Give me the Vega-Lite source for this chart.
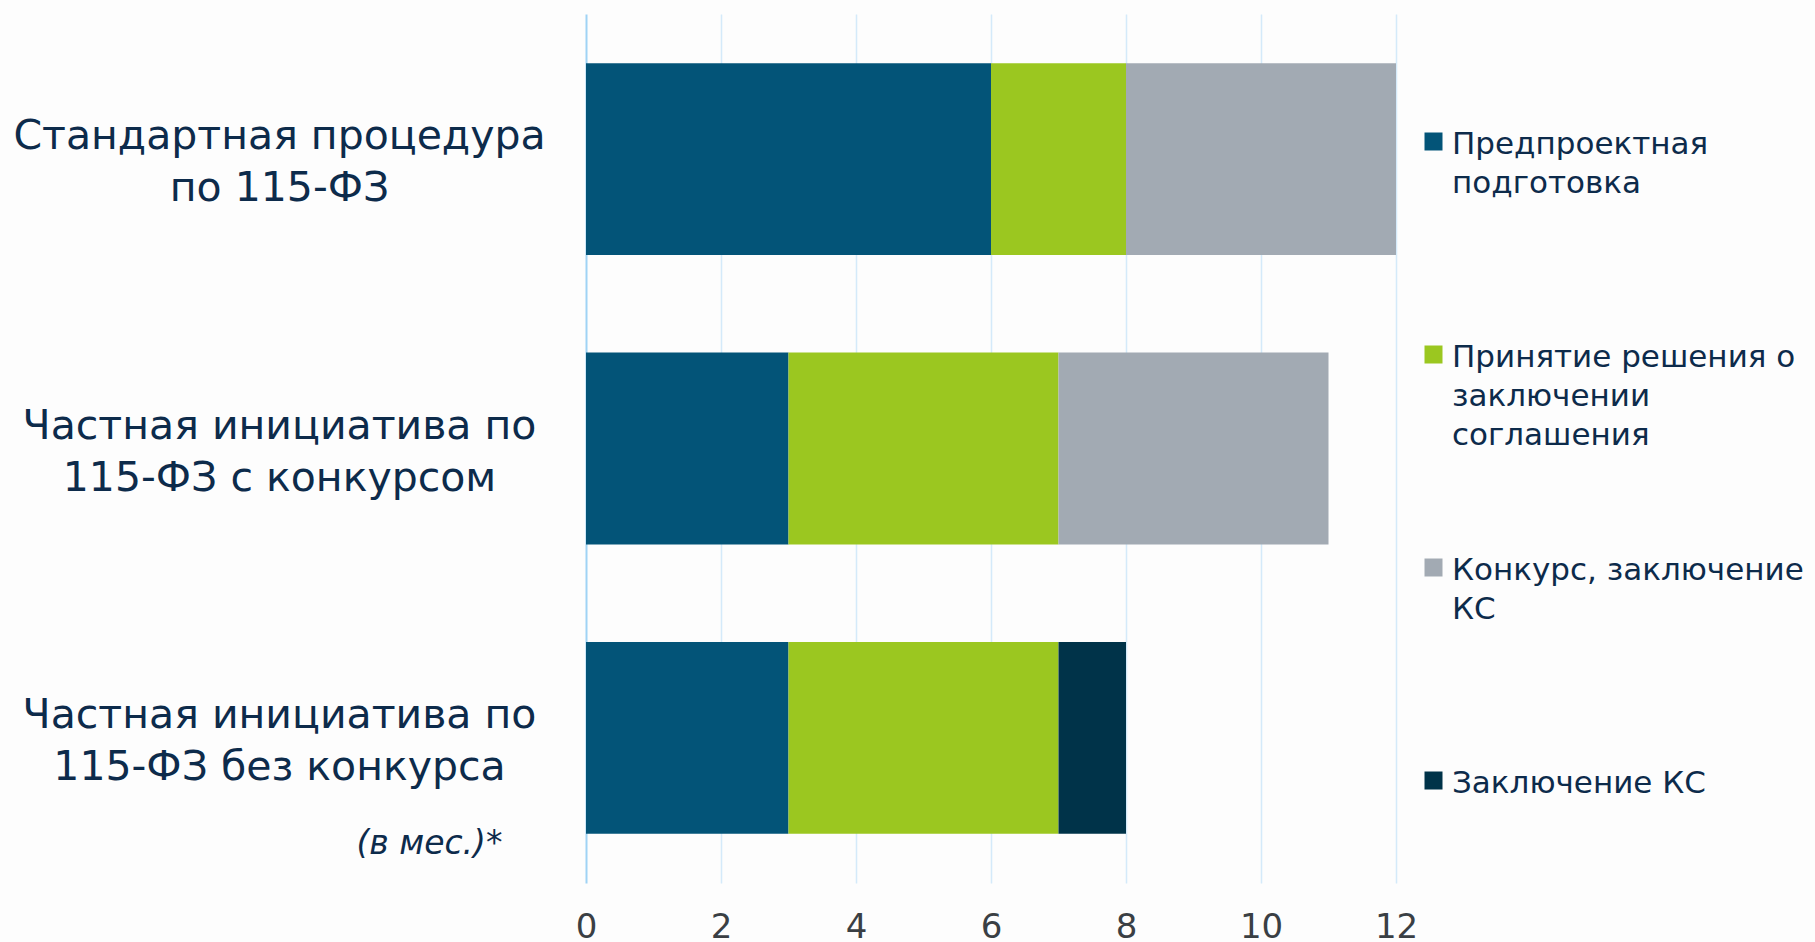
{
  "$schema": "https://vega.github.io/schema/vega-lite/v6.json",
  "width": 810,
  "height": 869,
  "autosize": "none",
  "padding": {"left": 586, "top": 14, "right": 419, "bottom": 59},
  "background": "#fdfdfd",
  "data": {
    "values": [
      {"procedure": "Стандартная процедура по 115-ФЗ", "stage": "Предпроектная подготовка", "step": 1, "months": 6},
      {"procedure": "Стандартная процедура по 115-ФЗ", "stage": "Принятие решения о заключении соглашения", "step": 2, "months": 2},
      {"procedure": "Стандартная процедура по 115-ФЗ", "stage": "Конкурс, заключение КС", "step": 3, "months": 4},
      {"procedure": "Частная инициатива по 115-ФЗ с конкурсом", "stage": "Предпроектная подготовка", "step": 1, "months": 3},
      {"procedure": "Частная инициатива по 115-ФЗ с конкурсом", "stage": "Принятие решения о заключении соглашения", "step": 2, "months": 4},
      {"procedure": "Частная инициатива по 115-ФЗ с конкурсом", "stage": "Конкурс, заключение КС", "step": 3, "months": 4},
      {"procedure": "Частная инициатива по 115-ФЗ без конкурса", "stage": "Предпроектная подготовка", "step": 1, "months": 3},
      {"procedure": "Частная инициатива по 115-ФЗ без конкурса", "stage": "Принятие решения о заключении соглашения", "step": 2, "months": 4},
      {"procedure": "Частная инициатива по 115-ФЗ без конкурса", "stage": "Заключение КС", "step": 3, "months": 1}
    ]
  },
  "mark": {"type": "bar"},
  "encoding": {
    "y": {
      "field": "procedure",
      "type": "nominal",
      "sort": null,
      "scale": {"paddingInner": 0.337, "paddingOuter": 0.17},
      "axis": {
        "ticks": false,
        "domain": false,
        "grid": false,
        "labelAlign": "center",
        "labelBaseline": "middle",
        "labelPadding": 307,
        "labelOffset": -22,
        "labelFontSize": 41,
        "labelLineHeight": 52,
        "labelColor": "#0d2b4b",
        "labelLimit": 700,
        "labelExpr": "datum.label == 'Стандартная процедура по 115-ФЗ' ? ['Стандартная процедура', 'по 115-ФЗ'] : datum.label == 'Частная инициатива по 115-ФЗ с конкурсом' ? ['Частная инициатива по', '115-ФЗ с конкурсом'] : ['Частная инициатива по', '115-ФЗ без конкурса']",
        "title": "(в мес.)*",
        "titleAngle": 0,
        "titleX": -84,
        "titleY": 839,
        "titleAlign": "right",
        "titleBaseline": "alphabetic",
        "titleFontStyle": "italic",
        "titleFontWeight": "normal",
        "titleFontSize": 33,
        "titleColor": "#0d2b4b"
      }
    },
    "x": {
      "field": "months",
      "type": "quantitative",
      "stack": "zero",
      "scale": {"domain": [0, 12], "nice": false},
      "axis": {
        "values": [0, 2, 4, 6, 8, 10, 12],
        "grid": true,
        "gridColor": {"condition": {"test": "datum.value === 0", "value": "#9fd3f5"}, "value": "#d4eafa"},
        "gridWidth": {"condition": {"test": "datum.value === 0", "value": 2}, "value": 1.5},
        "ticks": false,
        "domain": false,
        "labelFontSize": 34,
        "labelColor": "#3a3f44",
        "labelPadding": 27,
        "labelFlush": false,
        "title": null
      }
    },
    "color": {
      "field": "stage",
      "type": "nominal",
      "scale": {
        "domain": ["Предпроектная подготовка", "Принятие решения о заключении соглашения", "Конкурс, заключение КС", "Заключение КС"],
        "range": ["#035478", "#9bc720", "#a2aab3", "#003349"]
      },
      "legend": {
        "orient": "none",
        "legendX": 832,
        "legendY": 112,
        "direction": "vertical",
        "title": null,
        "padding": 0,
        "gridAlign": "all",
        "rowPadding": 101,
        "symbolType": "square",
        "symbolSize": 324,
        "symbolStrokeWidth": 0,
        "symbolOpacity": 1,
        "labelFontSize": 31,
        "labelColor": "#0d2b4b",
        "labelOffset": 3,
        "labelLimit": 500,
        "labelBaseline": "alphabetic",
        "labelExpr": "datum.label == 'Предпроектная подготовка' ? ['Предпроектная', 'подготовка'] : datum.label == 'Принятие решения о заключении соглашения' ? ['Принятие решения о', 'заключении', 'соглашения'] : datum.label == 'Конкурс, заключение КС' ? ['Конкурс, заключение', 'КС'] : datum.label",
        "encode": {
          "labels": {"update": {"dy": {"value": 12}, "lineHeight": {"value": 39}}}
        }
      }
    },
    "order": {"field": "step", "type": "quantitative"}
  },
  "config": {"view": {"stroke": null}, "font": "DejaVu Sans"}
}
